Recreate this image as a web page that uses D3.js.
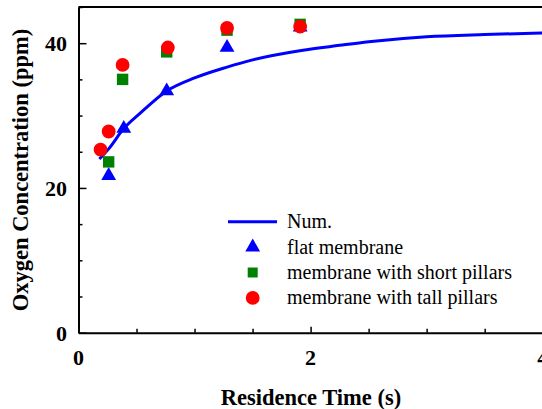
<!DOCTYPE html>
<html>
<head>
<meta charset="utf-8">
<script src="https://cdn.jsdelivr.net/npm/d3@7"></script>
<style>
  html, body { margin: 0; padding: 0; background: #fff; }
  svg { display: block; }
</style>
</head>
<body>
<svg id="chart" width="542" height="409"></svg>
<script>
// Measured residence times (s) for each membrane type
const timesFlat = [0.26, 0.39, 0.76, 1.28, 1.91];
const timesShort = [0.26, 0.38, 0.76, 1.28, 1.91];
const timesTall = [0.19, 0.26, 0.38, 0.77, 1.28, 1.91];

// Measured oxygen concentration (ppm)
const flatMembrane = [21.7, 28.2, 33.4, 39.4, 42.2];
const shortPillars = [23.6, 35.0, 38.8, 41.8, 42.6];
const tallPillars = [25.3, 27.8, 37.0, 39.4, 42.1, 42.3];

// Numerical model curve
const numTimes = [0.18, 0.26, 0.39, 0.53, 0.76, 1.0, 1.28, 1.5, 1.92, 2.25, 2.5, 3.0, 3.5, 4.0];
const numValues = [24.0, 25.4, 28.2, 30.3, 33.4, 35.2, 36.7, 37.7, 39.0, 39.7, 40.2, 40.9, 41.2, 41.4];

const xTicks = [0, 2, 4];
const yTicks = [0, 20, 40];
const legendLabels = ["Num.", "flat membrane", "membrane with short pillars", "membrane with tall pillars"];

const svg = d3.select("#chart");
const plotLeft = 78.5, plotRight = 542.7, plotTop = 7, plotBottom = 332.7;
const FONT = "Liberation Serif";

const x = d3.scaleLinear().domain([0, 4]).range([plotLeft, plotRight]);
const y = d3.scaleLinear().domain([0, 45]).range([plotBottom, plotTop]);

// Top frame line
svg.append("line").attr("x1", plotLeft).attr("x2", plotRight + 2).attr("y1", plotTop).attr("y2", plotTop)
  .attr("stroke", "#000").attr("stroke-width", 2);

// x axis with inward ticks
const xAxis = d3.axisBottom(x).tickValues(d3.range(0, 4.01, 0.5))
  .tickSize(0).tickFormat("");
const gx = svg.append("g").attr("transform", `translate(0,${plotBottom})`).call(xAxis);
gx.select(".domain").attr("stroke", "#000").attr("stroke-width", 2);
gx.selectAll(".tick line").attr("y2", d => xTicks.includes(d) ? -6 : -4)
  .attr("stroke", "#000").attr("stroke-width", 1.5);

// y axis with inward ticks
const yAxis = d3.axisLeft(y).tickValues(d3.range(0, 45.1, 5)).tickSize(0).tickFormat("");
const gy = svg.append("g").attr("transform", `translate(${plotLeft},0)`).call(yAxis);
gy.select(".domain").attr("stroke", "#000").attr("stroke-width", 2);
gy.selectAll(".tick line").attr("x2", d => yTicks.includes(d) ? 8 : 4)
  .attr("stroke", "#000").attr("stroke-width", 1.5);

// All text lives in one group with the serif face
const labels = svg.append("g").attr("font-family", FONT);

labels.append("g").selectAll("text").data(xTicks).join("text")
  .attr("x", d => x(d)).attr("y", 365)
  .attr("text-anchor", "middle")
  .attr("font-weight", "bold").attr("font-size", 22)
  .text(d => d);
labels.append("g").selectAll("text").data(yTicks).join("text")
  .attr("x", 67).attr("y", d => y(d) + 8)
  .attr("text-anchor", "end")
  .attr("font-weight", "bold").attr("font-size", 22)
  .text(d => d);

// Axis titles
labels.append("text").attr("x", 311).attr("y", 405).attr("text-anchor", "middle")
  .attr("font-weight", "bold").attr("font-size", 22.5)
  .text("Residence Time (s)");
labels.append("text").attr("transform", "translate(27.5,170) rotate(-90)").attr("text-anchor", "middle")
  .attr("font-weight", "bold").attr("font-size", 22.5)
  .text("Oxygen Concentration (ppm)");

// Numerical curve
const line = d3.line().x(d => x(d[0])).y(d => y(d[1])).curve(d3.curveMonotoneX);
svg.append("path").datum(d3.zip(numTimes, numValues))
  .attr("d", line).attr("fill", "none").attr("stroke", "#0000ff").attr("stroke-width", 3);

const triSym = d3.symbol().type(d3.symbolTriangle).size(95);
const sqSym = d3.symbol().type(d3.symbolSquare).size(130);
const circSym = d3.symbol().type(d3.symbolCircle).size(150);

svg.append("g").selectAll("path").data(d3.zip(timesFlat, flatMembrane)).join("path")
  .attr("transform", d => `translate(${x(d[0])},${y(d[1])})`)
  .attr("d", triSym).attr("fill", "#0000ff");
svg.append("g").selectAll("path").data(d3.zip(timesShort, shortPillars)).join("path")
  .attr("transform", d => `translate(${x(d[0])},${y(d[1])})`)
  .attr("d", sqSym).attr("fill", "#008000");
svg.append("g").selectAll("path").data(d3.zip(timesTall, tallPillars)).join("path")
  .attr("transform", d => `translate(${x(d[0])},${y(d[1])})`)
  .attr("d", circSym).attr("fill", "#ff0000");

// Legend
const legend = svg.append("g");
const rowY = i => 221.7 + i * 25.4;
legend.append("line").attr("x1", 228).attr("x2", 277).attr("y1", rowY(0)).attr("y2", rowY(0))
  .attr("stroke", "#0000ff").attr("stroke-width", 3);
legend.append("path").attr("transform", `translate(252.7,${rowY(1)})`).attr("d", triSym).attr("fill", "#0000ff");
legend.append("path").attr("transform", `translate(252.7,${rowY(2)})`).attr("d", d3.symbol().type(d3.symbolSquare).size(100)).attr("fill", "#008000");
legend.append("path").attr("transform", `translate(252.7,${rowY(3)})`).attr("d", circSym).attr("fill", "#ff0000");
labels.append("g").selectAll("text").data(legendLabels).join("text")
  .attr("x", 287).attr("y", (d, i) => rowY(i) + 6.5)
  .attr("font-size", 20)
  .text(d => d);
</script>
</body>
</html>
